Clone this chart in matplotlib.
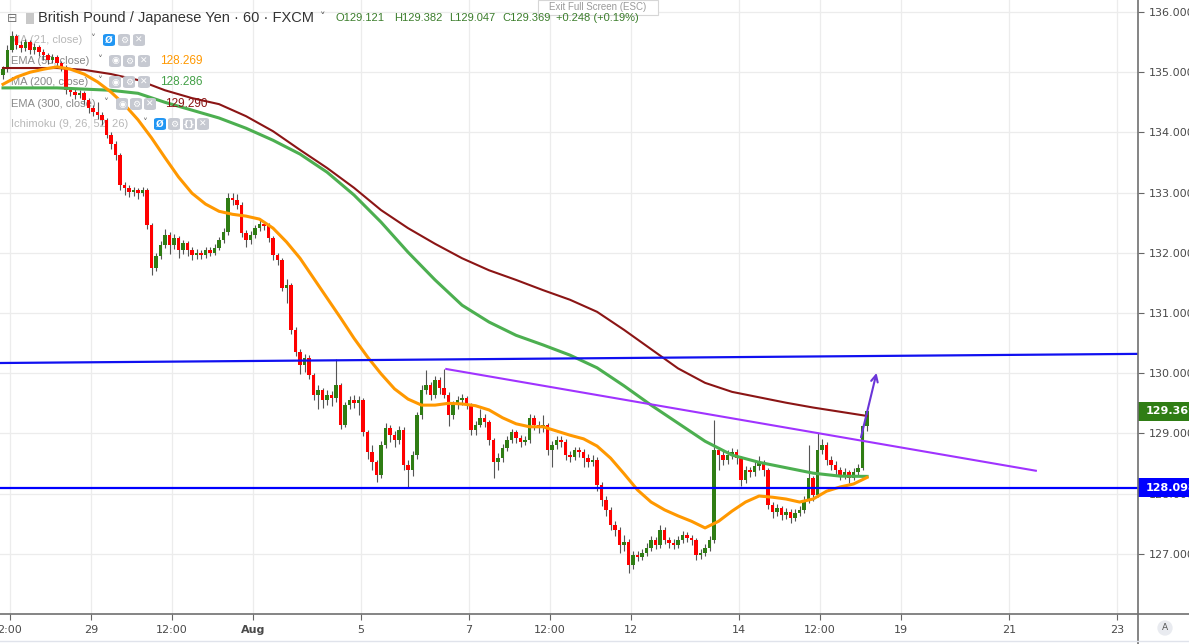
import numpy as np
import matplotlib
matplotlib.use('Agg')
import matplotlib.pyplot as plt
import matplotlib.transforms as mtransforms
from matplotlib.patches import Rectangle, FancyBboxPatch
from matplotlib.lines import Line2D

W, H = 1189, 644
PLOT_RIGHT, PLOT_BOTTOM = 1138, 614  # pixel edges of the price pane

# GBP/JPY, 2-hour candles (open = previous close)
first_open = 134.95
closes = [
    135.05, 135.37, 135.60, 135.45, 135.40, 135.50, 135.37, 135.42, 135.33, 135.28,
    135.20, 135.25, 135.15, 135.08, 134.70, 134.67, 134.62, 134.65, 134.54, 134.40,
    134.34, 134.29, 134.20, 133.96, 133.80, 133.62, 133.13, 133.08, 133.01, 133.04,
    132.99, 133.04, 132.46, 131.75, 131.95, 132.13, 132.30, 132.13, 132.25, 132.05,
    132.16, 132.05, 131.96, 132.00, 131.96, 132.05, 132.00, 132.08, 132.21, 132.35,
    132.91, 132.88, 132.80, 132.33, 132.21, 132.30, 132.41, 132.48, 132.45, 132.25,
    131.96, 131.88, 131.42, 131.47, 130.72, 130.35, 130.14, 130.25, 129.97, 129.64,
    129.72, 129.55, 129.64, 129.59, 129.80, 129.14, 129.47, 129.55, 129.50, 129.55,
    129.02, 128.69, 128.52, 128.31, 128.81, 129.09, 128.97, 128.89, 129.06, 128.48,
    128.39, 128.64, 129.30, 129.72, 129.80, 129.64, 129.89, 129.75, 129.64, 129.30,
    129.47, 129.55, 129.58, 129.47, 129.06, 129.14, 129.26, 129.19, 128.89, 128.52,
    128.59, 128.76, 128.89, 129.02, 128.92, 128.86, 128.89, 129.26, 129.14, 129.09,
    129.14, 128.72, 128.81, 128.89, 128.86, 128.64, 128.60, 128.72, 128.69, 128.59,
    128.52, 128.56, 128.14, 127.89, 127.73, 127.48, 127.40, 127.15, 127.20, 126.81,
    126.98, 126.95, 127.01, 127.10, 127.23, 127.15, 127.40, 127.23, 127.18, 127.15,
    127.23, 127.31, 127.26, 127.23, 126.98, 127.01, 127.10, 127.23, 128.72, 128.64,
    128.56, 128.64, 128.69, 128.59, 128.23, 128.39, 128.36, 128.46, 128.52, 128.39,
    127.81, 127.69, 127.76, 127.64, 127.69, 127.59, 127.68, 127.73, 127.89, 128.26,
    127.98, 128.72, 128.81, 128.56, 128.48, 128.39, 128.31, 128.36, 128.26, 128.36,
    128.43, 129.121, 129.369,
]
highs = [
    135.10, 135.45, 135.68, 135.63, 135.52, 135.56, 135.54, 135.48, 135.46, 135.38,
    135.32, 135.31, 135.28, 135.19, 135.12, 134.76, 134.72, 134.70, 134.68, 134.58,
    134.46, 134.50, 134.34, 134.24, 134.00, 133.86, 133.66, 133.18, 133.12, 133.10,
    133.08, 133.10, 133.07, 132.50, 132.00, 132.20, 132.40, 132.34, 132.32, 132.28,
    132.22, 132.20, 132.10, 132.06, 132.04, 132.10, 132.09, 132.14, 132.26, 132.42,
    132.99, 133.00, 132.98, 132.84, 132.38, 132.36, 132.47, 132.55, 132.53, 132.49,
    132.28, 132.00, 131.92, 131.56, 131.50, 130.76, 130.40, 130.32, 130.30, 130.00,
    129.80, 129.76, 129.72, 129.70, 130.24, 129.84, 129.52, 129.62, 129.64, 129.62,
    129.58, 129.06, 128.80, 128.56, 128.88, 129.18, 129.14, 129.04, 129.12, 129.10,
    128.55, 128.70, 129.36, 129.80, 130.05, 129.86, 129.96, 129.94, 130.07, 129.68,
    129.54, 129.62, 129.65, 129.62, 129.50, 129.20, 129.40, 129.32, 129.23, 128.93,
    128.68, 128.82, 128.96, 129.08, 129.06, 128.98, 128.96, 129.32, 129.30, 129.20,
    129.30, 129.18, 128.88, 128.96, 128.95, 128.90, 128.70, 128.78, 128.78, 128.74,
    128.66, 128.64, 128.60, 128.20, 127.96, 127.78, 127.55, 127.45, 127.32, 127.24,
    127.04, 127.04, 127.08, 127.18, 127.30, 127.28, 127.48, 127.44, 127.28, 127.24,
    127.30, 127.38, 127.36, 127.32, 127.26, 127.08, 127.16, 127.30, 129.22, 128.78,
    128.70, 128.72, 128.76, 128.74, 128.62, 128.46, 128.44, 128.54, 128.62, 128.56,
    128.42, 127.86, 127.82, 127.80, 127.76, 127.74, 127.74, 127.80, 127.96, 128.80,
    128.30, 129.00, 128.90, 128.86, 128.62, 128.54, 128.44, 128.42, 128.40, 128.42,
    128.50, 129.16, 129.382,
]
lows = [
    134.88, 135.00, 135.33, 135.38, 135.33, 135.36, 135.30, 135.31, 135.27, 135.20,
    135.14, 135.15, 135.10, 135.02, 134.64, 134.60, 134.55, 134.57, 134.48, 134.33,
    134.27, 134.22, 134.12, 133.90, 133.72, 133.55, 133.05, 132.96, 132.92, 132.95,
    132.90, 132.94, 132.40, 131.63, 131.70, 131.90, 132.08, 131.98, 132.06, 131.92,
    131.98, 131.94, 131.88, 131.90, 131.90, 131.92, 131.95, 131.96, 132.04, 132.16,
    132.30, 132.80, 132.72, 132.26, 132.10, 132.15, 132.25, 132.36, 132.38, 132.18,
    131.88, 131.80, 131.36, 131.16, 130.65, 130.28, 129.98, 130.02, 129.90, 129.55,
    129.40, 129.42, 129.48, 129.46, 129.52, 129.08, 129.10, 129.40, 129.42, 129.30,
    128.95, 128.58, 128.40, 128.20, 128.26, 128.76, 128.85, 128.78, 128.82, 128.40,
    128.10, 128.30, 128.58, 129.24, 129.65, 129.55, 129.58, 129.66, 129.58, 129.12,
    129.24, 129.40, 129.48, 129.40, 128.98, 128.98, 129.10, 129.10, 128.80, 128.26,
    128.40, 128.52, 128.70, 128.84, 128.84, 128.78, 128.80, 128.84, 129.06, 129.00,
    129.02, 128.64, 128.45, 128.74, 128.78, 128.56, 128.52, 128.55, 128.60, 128.45,
    128.44, 128.46, 128.05, 127.80, 127.62, 127.40, 127.30, 127.02, 127.05, 126.68,
    126.74, 126.88, 126.90, 126.96, 127.04, 127.08, 127.10, 127.16, 127.10, 127.08,
    127.10, 127.18, 127.20, 127.14, 126.90, 126.92, 126.96, 127.04, 127.18, 128.40,
    128.48, 128.50, 128.58, 128.50, 128.12, 128.18, 128.28, 128.30, 128.40, 128.30,
    127.74, 127.60, 127.62, 127.56, 127.58, 127.52, 127.54, 127.62, 127.68, 127.84,
    127.88, 127.94, 128.66, 128.48, 128.40, 128.30, 128.22, 128.24, 128.18, 128.22,
    128.30, 128.40, 129.047,
]

# indicator lines: EMA 50 read every 6 hours, the slow ones every 12 hours
ema50_hours = list(range(0, 385, 6))
ema50 = [134.80, 134.92, 135.00, 135.05, 135.09, 135.05, 134.97, 134.84, 134.67, 134.46,
         134.21, 133.91, 133.58, 133.26, 132.99, 132.81, 132.69, 132.64, 132.61, 132.56,
         132.41, 132.18, 131.91, 131.58, 131.25, 130.92, 130.58, 130.27, 129.99, 129.74,
         129.57, 129.47, 129.47, 129.50, 129.49, 129.46, 129.39, 129.26, 129.16, 129.11,
         129.11, 129.04, 128.97, 128.91, 128.79, 128.59, 128.33, 128.06, 127.86, 127.73,
         127.63, 127.54, 127.43, 127.54, 127.71, 127.86, 127.96, 127.94, 127.91, 127.86,
         127.91, 128.04, 128.11, 128.16, 128.269]
ma_hours = list(range(0, 385, 12))
ma200 = [134.74, 134.74, 134.74, 134.72, 134.70, 134.65, 134.50, 134.37, 134.24, 134.07,
         133.87, 133.64, 133.34, 132.96, 132.51, 132.01, 131.55, 131.13, 130.85, 130.63,
         130.47, 130.30, 130.09, 129.79, 129.47, 129.17, 128.87, 128.64, 128.52, 128.43,
         128.34, 128.29, 128.286]
ema300 = [135.07, 135.07, 135.07, 135.04, 134.97, 134.87, 134.70, 134.57, 134.47, 134.27,
          134.02, 133.71, 133.41, 133.08, 132.71, 132.41, 132.15, 131.91, 131.71, 131.55,
          131.38, 131.22, 131.02, 130.72, 130.40, 130.08, 129.84, 129.69, 129.60, 129.51,
          129.43, 129.36, 129.290]

# hand-drawn levels
support = 128.098
resistance_hours = [0, 500]
resistance_prices = [130.17, 130.32]
trend_hours = [197, 459]
trend_prices = [130.07, 128.38]
arrow_hours = [381, 388.5]
arrow_prices = [128.89, 130.05]

time_ticks = [3, 39, 75, 111, 159, 207, 243, 279, 327, 363, 399, 447, 495]
time_labels = ['2:00', '29', '12:00', 'Aug', '5', '7', '12:00', '12', '14', '12:00', '19', '21', '23']
price_ticks = [127, 128, 129, 130, 131, 132, 133, 134, 135, 136]

indicator_names = ['MA (21, close)', 'EMA (50, close)', 'MA (200, close)',
                   'EMA (300, close)', 'Ichimoku (9, 26, 52, 26)']


def fx(x):
    return x / W


def fy(y):
    return 1 - y / H


c = np.array(closes)
hi = np.array(highs)
lo = np.array(lows)
o = np.r_[first_open, c[:-1]]
t = np.arange(len(c)) * 2
up = c >= o

fig = plt.figure(figsize=(W / 100, H / 100), dpi=100)
ax = fig.add_axes([0, 1 - PLOT_BOTTOM / H, PLOT_RIGHT / W, PLOT_BOTTOM / H])
ax.set_xlim(-1.33, 504.4)
ax.set_ylim(126.0, 136.2)

for s in ax.spines.values():
    s.set_visible(False)
for x in time_ticks:
    ax.axvline(x, color='#ececec', lw=0.9, zorder=0)
for p in price_ticks:
    ax.axhline(p, color='#ececec', lw=0.9, zorder=0)

ax.yaxis.tick_right()
ax.set_yticks(price_ticks, [f'{p:.3f}' for p in price_ticks])
ax.tick_params(axis='y', length=4, width=0.8, color='#666', pad=4, labelsize=8, labelcolor='#4a4a4a')
ax.set_xticks(time_ticks, time_labels)
ax.tick_params(axis='x', length=4, width=0.8, color='#666', pad=4, labelsize=8, labelcolor='#4a4a4a')
for lab in ax.get_xticklabels():
    if lab.get_text() == 'Aug':
        lab.set_fontweight('bold')

fig.add_artist(Line2D([0, 1], [fy(614)] * 2, color='#707070', lw=1.2))
fig.add_artist(Line2D([fx(1138)] * 2, [0, 1], color='#707070', lw=1.2))
fig.add_artist(Line2D([0, 1], [fy(641)] * 2, color='#e0e3eb', lw=1))

# candles
ax.vlines(t, lo, hi, color='#555555', lw=0.8, zorder=3)
ax.bar(t, np.maximum(np.abs(c - o), 0.012), bottom=np.minimum(o, c), width=1.4,
       color=np.where(up, '#2f7d14', '#ff0000'), linewidth=0, zorder=4)

# moving averages
ax.plot(ma_hours, ema300, color='#8b1515', lw=1.5, zorder=5)
ax.plot(ma_hours, ma200, color='#4caf50', lw=2.2, zorder=5)
ax.plot(ema50_hours, ema50, color='#ff9800', lw=2.2, zorder=5)

# levels and trend line
ax.axhline(support, color='#0000ff', lw=1.6, zorder=6)
ax.axline((resistance_hours[0], resistance_prices[0]), (resistance_hours[1], resistance_prices[1]),
          color='#1010f0', lw=1.6, zorder=6)
ax.plot(trend_hours, trend_prices, color='#a033ff', lw=1.5, zorder=6)
ax.annotate('', xy=(arrow_hours[1], arrow_prices[1]), xytext=(arrow_hours[0], arrow_prices[0]),
            arrowprops=dict(arrowstyle='->', color='#6a35d8', lw=1.5, mutation_scale=12), zorder=7)

# price tags on the axis
blend = mtransforms.blended_transform_factory(ax.transAxes, ax.transData)


def price_tag(price, color):
    ax.add_patch(Rectangle((1.0, price - 0.158), 60 / PLOT_RIGHT, 0.316, transform=blend,
                           facecolor=color, edgecolor='none', clip_on=False, zorder=20))
    ax.text(1.0 + 8 / PLOT_RIGHT, price, f'{price:.3f}', transform=blend, color='white',
            fontsize=8, fontweight='bold', va='center', ha='left', clip_on=False, zorder=21)


price_tag(support, '#0000ff')
price_tag(c[-1], '#2f7d14')

# header
fig.text(fx(7), fy(18), '⊟', fontsize=9, color='#777', va='center')
fig.patches.append(Rectangle((fx(26), fy(24)), 8 / W, 11 / H, transform=fig.transFigure,
                             facecolor='#c8c8c8', edgecolor='none'))
fig.text(fx(38), fy(18), 'British Pound / Japanese Yen · 60 · FXCM', fontsize=10.5,
         family='Liberation Sans', color='#333333', va='center')
fig.text(fx(320), fy(17), '˅', fontsize=8, color='#555', va='center')
chg = c[-1] - o[-1]
ohlc = [f'O{o[-1]:.3f}', f'H{hi[-1]:.3f}', f'L{lo[-1]:.3f}', f'C{c[-1]:.3f}',
        f'{chg:+.3f} ({chg / o[-1] * 100:+.2f}%)']
for x, s in zip([336, 394, 449, 502, 556], ohlc):
    fig.text(fx(x), fy(18), s, fontsize=8, family='Liberation Sans', color='#3b7d2b', va='center')
fig.patches.append(FancyBboxPatch((fx(538), fy(15)), 120 / W, 15 / H, boxstyle='square,pad=0',
                                  transform=fig.transFigure, facecolor='white',
                                  edgecolor='#d6d6d6', lw=0.8))
fig.text(fx(598), fy(7.5), 'Exit Full Screen (ESC)', fontsize=7, family='Liberation Sans',
         color='#9a9a9a', ha='center', va='center')

# indicator legend
rows_y = [40, 61, 82, 104, 124]
chevron_x = [90, 97, 97, 103, 142]
icon_x = [[103, 118, 133], [109, 123, 138], [109, 123, 138], [116, 130, 144], [154, 168, 183, 197]]
icon_glyphs = [['Ø', '⚙', '✕'], ['◉', '⚙', '✕'], ['◉', '⚙', '✕'], ['◉', '⚙', '✕'],
               ['Ø', '⚙', '{}', '✕']]
legend_values = [None, (ema50[-1], '#ff9800', 160), (ma200[-1], '#43a047', 160),
                 (ema300[-1], '#8b1515', 165), None]

for i, name in enumerate(indicator_names):
    y = rows_y[i]
    hidden = legend_values[i] is None
    ax.text(fx(11), fy(y), name, transform=fig.transFigure, fontsize=8, family='Liberation Sans',
            color='#b8b8b8' if hidden else '#8a8a8a', va='center', zorder=2)
    ax.text(fx(chevron_x[i]), fy(y - 1), '˅', transform=fig.transFigure, fontsize=7,
            color='#666', va='center', zorder=2)
    for j, (x, g) in enumerate(zip(icon_x[i], icon_glyphs[i])):
        col = '#2196f3' if (hidden and j == 0) else '#c6c9d1'
        ax.add_patch(FancyBboxPatch((fx(x), fy(y + 6)), 12 / W, 12 / H,
                                    boxstyle='round,pad=0,rounding_size=0.003',
                                    transform=fig.transFigure, facecolor=col, edgecolor='none',
                                    clip_on=False, zorder=8))
        ax.text(fx(x + 6), fy(y), g, transform=fig.transFigure, fontsize=6.5, color='white',
                ha='center', va='center', fontweight='bold', zorder=9)
    if not hidden:
        val, col, vx = legend_values[i]
        ax.text(fx(vx), fy(y), f'{val:.3f}', transform=fig.transFigure, fontsize=8.5,
                family='Liberation Sans', color=col, va='center', zorder=9)

fig.text(fx(1165), fy(628), 'A', fontsize=6.5, color='#555', ha='center', va='center',
         bbox=dict(boxstyle='circle,pad=0.35', fc='#e9ebf0', ec='none'))

fig.savefig('out.png', dpi=100)
